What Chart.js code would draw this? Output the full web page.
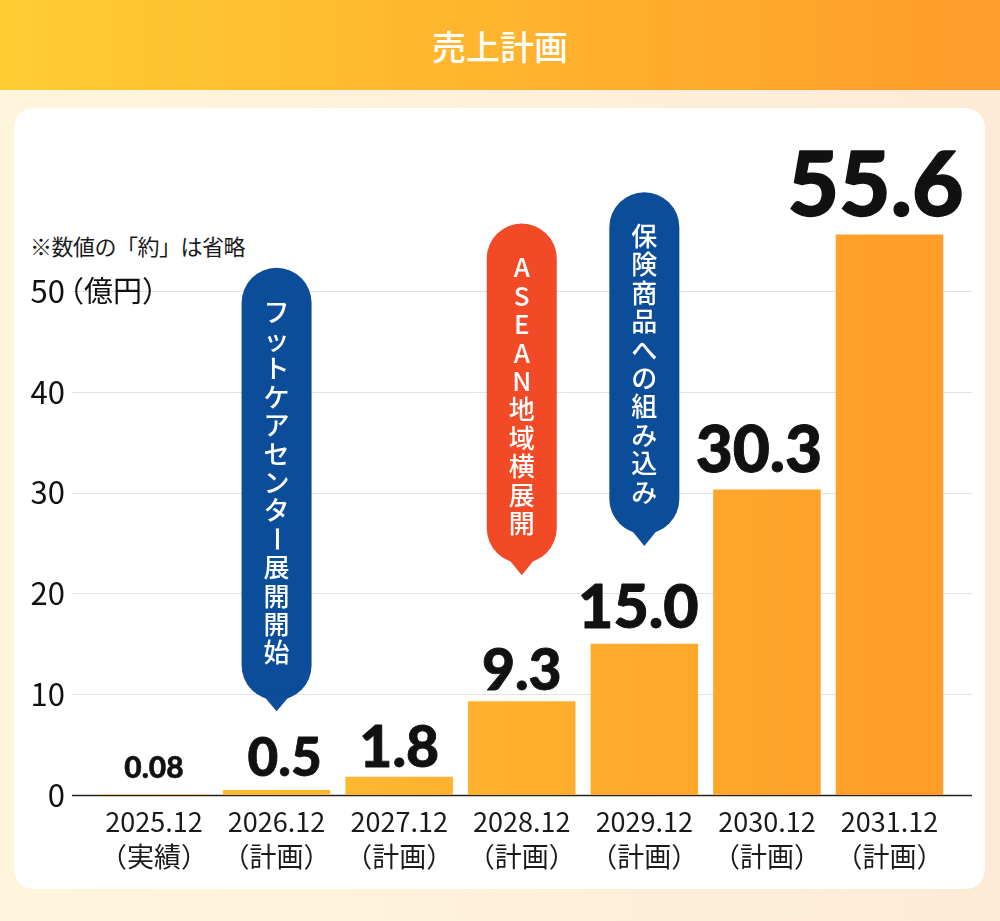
<!DOCTYPE html>
<html lang="ja">
<head>
<meta charset="utf-8">
<title>売上計画</title>
<script src="https://cdn.jsdelivr.net/npm/chart.js@4.4.1/dist/chart.umd.min.js"></script>
<style>
  html, body { margin: 0; padding: 0; }
  body {
    width: 1000px; height: 921px; position: relative; overflow: hidden;
    background: linear-gradient(90deg, #fff5dc, #feebd7);
    font-family: 'Noto Sans CJK JP', sans-serif;
  }
  #header {
    position: absolute; left: 0; top: 0; width: 1000px; height: 90px;
    background: linear-gradient(90deg, #ffcc32, #ff9c2a);
    color: #fff; font-size: 34px; font-weight: 500; text-align: center; line-height: 92px;
  }
  #card {
    position: absolute; left: 14px; top: 108px; width: 971px; height: 781px;
    background: #fff; border-radius: 20px;
  }
  #note {
    position: absolute; left: 30px; top: 230px; font-size: 22px; color: #1a1a1a;
    line-height: 30px; letter-spacing: -0.5px;
  }
  canvas { position: absolute; left: 0; top: 0; }
</style>
</head>
<body>
<div id="header">売上計画</div>
<div id="card"></div>
<div id="note">※数値の「約」は省略</div>
<canvas id="salesChart" width="1000" height="921"></canvas>
<script>
// data
const categories = ['2025.12', '2026.12', '2027.12', '2028.12', '2029.12', '2030.12', '2031.12'];
const statusLabels = ['（実績）', '（計画）', '（計画）', '（計画）', '（計画）', '（計画）', '（計画）'];
const sales = [0.08, 0.5, 1.8, 9.3, 15.0, 30.3, 55.6];
const valueLabels = ['0.08', '0.5', '1.8', '9.3', '15.0', '30.3', '55.6'];
const yTicks = [0, 10, 20, 30, 40, 50];
const calloutIndex = [1, 3, 4];
const calloutTexts = ['フットケアセンター展開開始', 'ASEAN地域横展開', '保険商品への組み込み'];

// styling
const labelSizes = [30, 53, 57, 57, 61, 64, 89];
const labelGaps = [16, 14, 10, 11, 16, 18, 19];
const labelShift = [0, 8, 0, 0, -6, -8, -14];
const calloutColors = ['#0b4d98', '#f24a27', '#0b4d98'];
const calloutTop = [52.3, 56.7, 59.8];     // y units
const calloutBottom = [9.4, 23.0, 25.9];
const calloutTip = [8.3, 21.8, 24.7];
const FONT = "'Noto Sans CJK JP', sans-serif";

const gridPlugin = {
    id: 'gridLines',
    beforeDatasetsDraw(chart) {
        const ctx = chart.ctx;
        const y = chart.scales.y;
        ctx.save();
        yTicks.forEach(v => {
            const py = Math.round(y.getPixelForValue(v)) + 0.5;
            ctx.beginPath();
            ctx.moveTo(72, py);
            ctx.lineTo(972, py);
            if (v === 0) {
                ctx.strokeStyle = '#222';
                ctx.lineWidth = 1.5;
            } else {
                ctx.strokeStyle = '#e2e2e2';
                ctx.lineWidth = 1;
            }
            ctx.stroke();
        });
        // unit next to the top tick
        ctx.font = `400 29px ${FONT}`;
        ctx.fillStyle = '#111';
        ctx.textAlign = 'left';
        ctx.textBaseline = 'middle';
        ctx.fillText('（億円）', 55, y.getPixelForValue(50));
        ctx.restore();
    }
};

const labelPlugin = {
    id: 'valueLabels',
    afterDatasetsDraw(chart) {
        const ctx = chart.ctx;
        const meta = chart.getDatasetMeta(0);
        const x = chart.scales.x;
        const y = chart.scales.y;
        ctx.save();

        // bar value labels
        meta.data.forEach((bar, i) => {
            const size = labelSizes[i];
            ctx.font = `900 ${size}px Lato, ${FONT}`;
            ctx.textAlign = 'center';
            ctx.textBaseline = 'alphabetic';
            ctx.fillStyle = '#111';
            ctx.strokeStyle = '#111';
            ctx.lineWidth = size * 0.015;
            ctx.lineJoin = 'round';
            const lx = bar.x + labelShift[i];
            ctx.strokeText(valueLabels[i], lx, bar.y - labelGaps[i]);
            ctx.fillText(valueLabels[i], lx, bar.y - labelGaps[i]);
        });

        // callout bubbles
        calloutIndex.forEach((idx, k) => {
            const cx = x.getPixelForValue(idx);
            const top = y.getPixelForValue(calloutTop[k]);
            const bottom = y.getPixelForValue(calloutBottom[k]);
            const tip = y.getPixelForValue(calloutTip[k]);
            const r = 35;
            ctx.fillStyle = calloutColors[k];
            ctx.beginPath();
            ctx.arc(cx, top + r, r, Math.PI, 0);
            ctx.lineTo(cx + r, bottom - r);
            ctx.arc(cx, bottom - r, r, 0, Math.PI);
            ctx.closePath();
            ctx.fill();
            ctx.beginPath();
            ctx.moveTo(cx - 17, bottom - 9);
            ctx.lineTo(cx, tip);
            ctx.lineTo(cx + 17, bottom - 9);
            ctx.closePath();
            ctx.fill();

            ctx.fillStyle = '#fff';
            ctx.font = `500 26px ${FONT}`;
            ctx.textAlign = 'center';
            ctx.textBaseline = 'middle';
            Array.from(calloutTexts[k]).forEach((ch, j) => {
                const cy = top + 44 + j * 28.4;
                if (ch === 'ー') {
                    ctx.save();
                    ctx.translate(cx, cy);
                    ctx.rotate(Math.PI / 2);
                    ctx.fillText(ch, 0, 0);
                    ctx.restore();
                } else {
                    ctx.fillText(ch, cx, cy);
                }
            });
        });
        ctx.restore();
    }
};

const ctx = document.getElementById('salesChart').getContext('2d');
new Chart(ctx, {
    type: 'bar',
    data: {
        labels: categories.map((c, i) => [c, statusLabels[i]]),
        datasets: [{
            data: sales,
            backgroundColor: (c) => {
                const area = c.chart.chartArea;
                if (!area) return '#ffb02e';
                const g = c.chart.ctx.createLinearGradient(area.left, 0, area.right, 0);
                g.addColorStop(0, '#ffc233');
                g.addColorStop(1, '#ff9c29');
                return g;
            },
            borderWidth: 0,
            categoryPercentage: 1,
            barPercentage: 0.877
        }]
    },
    options: {
        responsive: false,
        animation: false,
        devicePixelRatio: 1,
        layout: { padding: { left: 0, right: 49.2, top: 190.2, bottom: 0 } },
        plugins: { legend: { display: false }, tooltip: { enabled: false } },
        scales: {
            x: {
                grid: { display: false, drawTicks: false },
                border: { display: false },
                ticks: {
                    color: '#1a1a1a',
                    font: { family: FONT, size: 27, lineHeight: 1.3 },
                    padding: 9,
                    maxRotation: 0,
                    autoSkip: false
                },
                afterFit(scale) {
                    scale.height = 126;
                    scale.paddingLeft = 0;
                    scale.paddingRight = 0;
                }
            },
            y: {
                min: 0,
                max: 60,
                grid: { display: false, drawTicks: false },
                border: { display: false },
                ticks: {
                    stepSize: 10,
                    color: '#111',
                    padding: 27.7,
                    font: { family: FONT, size: 31 }
                },
                afterBuildTicks(scale) {
                    scale.ticks = scale.ticks.filter(t => yTicks.includes(t.value));
                },
                afterFit(scale) {
                    scale.width = 92.7;
                    scale.paddingTop = 0;
                    scale.paddingBottom = 0;
                }
            }
        }
    },
    plugins: [gridPlugin, labelPlugin]
});
</script>
</body>
</html>
